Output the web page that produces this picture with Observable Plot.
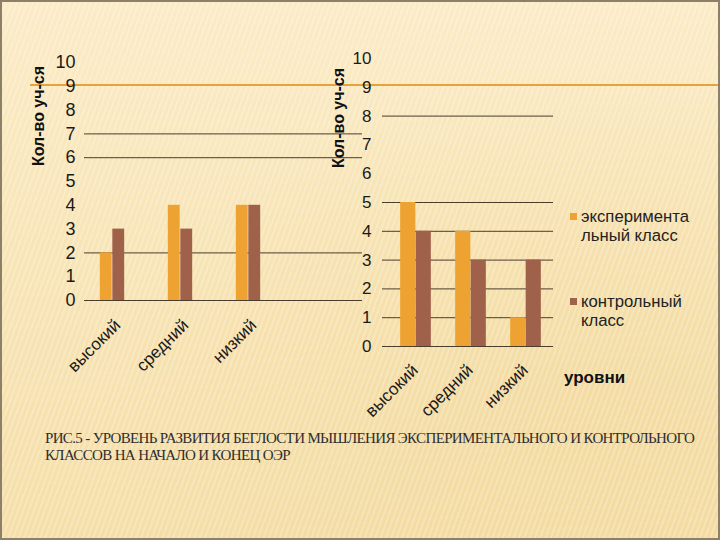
<!DOCTYPE html>
<html><head><meta charset="utf-8">
<script src="https://cdn.jsdelivr.net/npm/d3@7"></script>
<script src="https://cdn.jsdelivr.net/npm/@observablehq/plot@0.6"></script>
<style>
body{margin:0;background:#fff;}
#slide{position:relative;width:720px;height:540px;overflow:hidden;box-sizing:border-box;border:2px solid #8c8068;
 background:
  repeating-linear-gradient(110deg, rgba(255,255,255,0) 0 3px, rgba(255,255,255,0.22) 3px 5px),
  radial-gradient(ellipse at 85% 80%, rgba(240,214,150,0.55) 0%, rgba(240,214,150,0) 60%),
  linear-gradient(180deg,#FBEBC6 0%, #F8E5B7 45%, #F5DEA8 100%);
 font-family:"Liberation Sans", Arial, sans-serif;}
.abs{position:absolute;}
.ytitle{position:absolute;font-weight:bold;font-size:16px;color:#111;transform:translate(-50%,-50%) rotate(-90deg);white-space:nowrap;}
.leg{position:absolute;font-size:16.7px;color:#222;line-height:19px;}
.sw{position:absolute;width:7px;height:7px;}
#caption{position:absolute;left:43px;top:428px;font-family:"Liberation Serif","Times New Roman",serif;font-size:15px;line-height:17px;color:#2e2e2e;letter-spacing:-0.65px;white-space:nowrap;}
#deco{position:absolute;left:28px;top:82px;width:700px;height:2px;background:#E8A23A;}
</style></head>
<body>
<div id="slide">
  <div id="deco"></div>
</div>
<script>
const categories = ["высокий", "средний", "низкий"];
const seriesNames = ["экспериментальный класс", "контрольный класс"];
const legendLines = [["эксперимента", "льный класс"], ["контрольный", "класс"]];
const colors = ["#EEA232", "#A0614B"];
// left chart (start)
const leftExp = [2, 4, 4];
const leftCtrl = [3, 3, 4];
// right chart (end)
const rightExp = [5, 4, 1];
const rightCtrl = [4, 3, 3];
const yTicks = [0, 1, 2, 3, 4, 5, 6, 7, 8, 9, 10];
const leftGrid = [0, 2, 6, 7];
const rightGrid = [0, 1, 2, 3, 4, 5, 8];
const yTitle = "Кол-во уч-ся";
const xTitle = "уровни";
const captionLines = ["РИС.5 - УРОВЕНЬ РАЗВИТИЯ БЕГЛОСТИ МЫШЛЕНИЯ ЭКСПЕРИМЕНТАЛЬНОГО И КОНТРОЛЬНОГО", "КЛАССОВ НА НАЧАЛО И КОНЕЦ ОЭР"];

const slide = document.getElementById("slide");

function chart(opt) {
  const rows = categories.map((c, i) => ({cat: c, exp: opt.exp[i], ctrl: opt.ctrl[i]}));
  const half = opt.band / 2;
  const p = Plot.plot({
    width: opt.width, height: opt.height,
    marginLeft: opt.ml, marginRight: opt.mr, marginTop: opt.mt, marginBottom: opt.mb,
    style: {background: "transparent", fontFamily: "Liberation Sans, Arial, sans-serif", fontSize: "16px", color: "#1a1a1a", overflow: "visible"},
    x: {domain: categories, range: opt.xRange, padding: 0, label: null, axis: null},
    y: {domain: [0, 10], label: null, axis: null},
    marks: [
      Plot.ruleY(opt.grid, {stroke: "#4a3d2c", strokeWidth: 1}),
      Plot.barY(rows, {x: "cat", y: "exp", fill: colors[0], insetLeft: half - opt.barW, insetRight: half}),
      Plot.barY(rows, {x: "cat", y: "ctrl", fill: colors[1], insetLeft: half, insetRight: half - opt.barW}),
      Plot.axisY(yTicks, {tickSize: 0, tickPadding: opt.ytp, label: null, fontSize: opt.yfs, tickFormat: d => d}),
      Plot.axisX({tickSize: 0, tickRotate: -45, tickPadding: opt.xtp, dx: opt.xdx, label: null, fontSize: 17})
    ]
  });
  p.style.position = "absolute";
  p.style.left = opt.left + "px";
  p.style.top = opt.top + "px";
  slide.appendChild(p);
}

chart({exp: leftExp, ctrl: leftCtrl, grid: leftGrid, width: 370, height: 400, ml: 82, mr: 10, mt: 60, mb: 102,
  xRange: [75, 281], band: (281 - 75) / 3, barW: 12.5, ytp: 9, yfs: 18, xtp: 22, xdx: 5, left: 0, top: 0});
chart({exp: rightExp, ctrl: rightCtrl, grid: rightGrid, width: 230, height: 400, ml: 40, mr: 19, mt: 56, mb: 56,
  xRange: [45, 211], band: (211 - 45) / 3, barW: 15.5, ytp: 11, yfs: 17, xtp: 21, xdx: -1, left: 340, top: 0});

function addDiv(cls, text, css) {
  const d = document.createElement("div");
  d.className = cls; d.textContent = text;
  Object.assign(d.style, css);
  slide.appendChild(d);
  return d;
}
addDiv("ytitle", yTitle, {left: "37px", top: "114px"});
addDiv("ytitle", yTitle, {left: "337px", top: "116px"});
addDiv("abs", xTitle, {left: "562px", top: "366px", fontWeight: "bold", fontSize: "17px", color: "#111"});

const legTops = [205, 290];
legendLines.forEach((lines, i) => {
  const sw = document.createElement("div");
  sw.className = "sw";
  Object.assign(sw.style, {left: "568px", top: (legTops[i] + 6) + "px", background: colors[i]});
  sw.title = seriesNames[i];
  slide.appendChild(sw);
  const t = addDiv("leg", "", {left: "579px", top: legTops[i] + "px"});
  t.innerHTML = lines.join("<br>");
});

const cap = addDiv("", "", {});
cap.id = "caption";
cap.innerHTML = captionLines.join("<br>");
</script>
</body></html>
